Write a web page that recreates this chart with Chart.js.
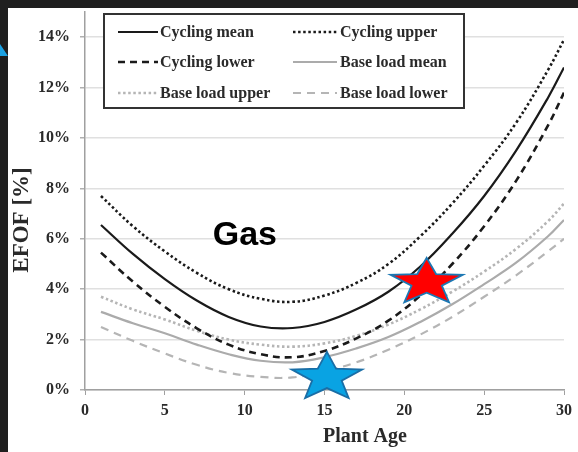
<!DOCTYPE html>
<html lang="en">
<head>
    <meta charset="UTF-8">
    <title>EFOF vs Plant Age - Gas</title>
    <script src="https://cdn.jsdelivr.net/npm/chart.js"></script>
    <style>
        body {
            margin: 0;
            width: 578px;
            height: 452px;
            background-color: #1f1f1f;
            overflow: hidden;
            position: relative;
        }
        .panel {
            position: absolute;
            left: 8px;
            top: 8px;
            width: 570px;
            height: 444px;
            background: white;
        }
        .corner {
            position: absolute;
            left: 0;
            top: 44px;
            width: 8px;
            height: 12px;
            background: #1ba1e2;
            clip-path: polygon(0 0, 100% 100%, 0 100%);
        }
    </style>
</head>
<body>
    <div class="corner"></div>
    <div class="panel">
        <canvas id="efofChart" width="570" height="444"></canvas>
    </div>

    <script>
        // values
        const ages = [1, 3, 5, 7, 9, 11, 13, 15, 17, 19, 21, 23, 25, 27, 29, 30];
        const cyclingMean  = [6.55, 5.4, 4.4, 3.55, 2.9, 2.52, 2.46, 2.7, 3.2, 3.9, 4.9, 6.2, 7.7, 9.5, 11.6, 12.8];
        const cyclingUpper = [7.7, 6.5, 5.5, 4.65, 4.0, 3.62, 3.5, 3.75, 4.25, 5.0, 6.1, 7.4, 8.9, 10.6, 12.7, 13.9];
        const cyclingLower = [5.45, 4.3, 3.3, 2.45, 1.8, 1.42, 1.3, 1.55, 2.05, 2.75, 3.75, 5.0, 6.5, 8.3, 10.5, 11.8];
        const baseMean  = [3.1, 2.65, 2.25, 1.8, 1.42, 1.16, 1.1, 1.3, 1.65, 2.1, 2.7, 3.4, 4.2, 5.05, 6.1, 6.75];
        const baseUpper = [3.7, 3.2, 2.8, 2.35, 2.0, 1.8, 1.72, 1.85, 2.15, 2.6, 3.2, 3.9, 4.7, 5.6, 6.7, 7.4];
        const baseLower = [2.5, 1.95, 1.45, 1.0, 0.68, 0.52, 0.5, 0.75, 1.1, 1.6, 2.2, 2.9, 3.7, 4.55, 5.5, 6.0];

        const yTicks = [0, 2, 4, 6, 8, 10, 12, 14];
        const xTicks = [0, 5, 10, 15, 20, 25, 30];

        // annotation: label and the two stars (age, EFOF %)
        const plotLabel = { text: 'Gas', age: 8.0, value: 5.75 };
        const redStar  = { age: 21.4, value: 4.27 };
        const blueStar = { age: 15.15, value: 0.5 };

        const serif = '"Liberation Serif", "Times New Roman", serif';
        const BLACK = '#1a1a1a';
        const GREY = '#ababab';

        const series = [
            { label: 'Cycling mean',    data: cyclingMean,  color: BLACK, width: 2.2, dash: [] },
            { label: 'Cycling upper',   data: cyclingUpper, color: BLACK, width: 2.6, dash: [2.5, 2.6] },
            { label: 'Cycling lower',   data: cyclingLower, color: BLACK, width: 2.6, dash: [7, 5] },
            { label: 'Base load mean',  data: baseMean,     color: GREY,  width: 2.2, dash: [] },
            { label: 'Base load upper', data: baseUpper,    color: '#b5b5b5', width: 2.6, dash: [2.5, 2.6] },
            { label: 'Base load lower', data: baseLower,    color: '#b5b5b5', width: 2.2, dash: [8, 6] }
        ];

        const datasets = series.map(s => ({
            label: s.label,
            data: ages.map((a, i) => ({ x: a, y: s.data[i] })),
            borderColor: s.color,
            borderWidth: s.width,
            borderDash: s.dash,
            pointRadius: 0,
            fill: false,
            tension: 0.4
        }));

        function drawStar(ctx, cx, cy, rx, ry, fill, stroke) {
            ctx.save();
            ctx.translate(cx, cy);
            ctx.scale(rx / ry, 1);
            ctx.beginPath();
            for (let i = 0; i < 10; i++) {
                const r = i % 2 === 0 ? ry : ry * 0.42;
                const ang = -Math.PI / 2 + i * Math.PI / 5;
                const px = r * Math.cos(ang);
                const py = r * Math.sin(ang);
                if (i === 0) ctx.moveTo(px, py); else ctx.lineTo(px, py);
            }
            ctx.closePath();
            ctx.restore();
            ctx.fillStyle = fill;
            ctx.fill();
            ctx.lineWidth = 1.8;
            ctx.strokeStyle = stroke;
            ctx.stroke();
        }

        const extras = {
            id: 'extras',
            afterDraw(chart) {
                const ctx = chart.ctx;
                const xs = chart.scales.x;
                const ys = chart.scales.y;

                // axis titles
                ctx.save();
                ctx.fillStyle = '#2a2a2a';
                ctx.textAlign = 'center';
                ctx.textBaseline = 'middle';
                ctx.font = 'bold 20px ' + serif;
                ctx.fillText('Plant Age', 357, 429);
                ctx.translate(14, 212);
                ctx.rotate(-Math.PI / 2);
                ctx.font = 'bold 23px ' + serif;
                ctx.fillText('EFOF [%]', 0, 0);
                ctx.restore();

                // legend box
                ctx.save();
                ctx.fillStyle = 'white';
                ctx.fillRect(96, 6, 360, 94);
                ctx.lineWidth = 2;
                ctx.strokeStyle = '#333';
                ctx.strokeRect(96, 6, 360, 94);
                const rowsY = [24, 54, 85];
                const cols = [
                    { x0: 110, x1: 150, tx: 152 },
                    { x0: 285, x1: 329, tx: 332 }
                ];
                ctx.font = 'bold 16px ' + serif;
                ctx.textBaseline = 'middle';
                ctx.textAlign = 'left';
                series.forEach((s, i) => {
                    const c = cols[i % 2];
                    const y = rowsY[Math.floor(i / 2)];
                    ctx.beginPath();
                    ctx.setLineDash(s.dash);
                    ctx.lineWidth = s.width;
                    ctx.strokeStyle = s.color;
                    ctx.moveTo(c.x0, y);
                    ctx.lineTo(c.x1, y);
                    ctx.stroke();
                    ctx.setLineDash([]);
                    ctx.fillStyle = '#2a2a2a';
                    ctx.fillText(s.label, c.tx, y + 1);
                });
                ctx.restore();

                // "Gas" label
                ctx.save();
                ctx.fillStyle = '#000';
                ctx.font = 'bold 34px "Liberation Sans", Arial, sans-serif';
                ctx.textAlign = 'left';
                ctx.textBaseline = 'alphabetic';
                ctx.fillText(plotLabel.text, xs.getPixelForValue(plotLabel.age), ys.getPixelForValue(plotLabel.value));
                ctx.restore();

                // stars
                drawStar(ctx, xs.getPixelForValue(redStar.age), ys.getPixelForValue(redStar.value), 38, 24.5, '#ff0000', '#1b78b4');
                drawStar(ctx, xs.getPixelForValue(blueStar.age), ys.getPixelForValue(blueStar.value), 37, 25.5, '#09a3e3', '#1a6ea6');
            }
        };

        const ctx = document.getElementById('efofChart').getContext('2d');
        const efofChart = new Chart(ctx, {
            type: 'line',
            data: { datasets: datasets },
            options: {
                responsive: false,
                animation: false,
                layout: { padding: { left: 0, right: 14, top: 4, bottom: 0 } },
                plugins: {
                    legend: { display: false },
                    tooltip: { enabled: false }
                },
                scales: {
                    x: {
                        type: 'linear',
                        min: 0,
                        max: 30,
                        afterBuildTicks: scale => { scale.ticks = xTicks.map(v => ({ value: v })); },
                        afterFit: scale => {
                            scale.height = 62;
                            scale.paddingLeft = 0;
                            scale.paddingRight = 0;
                        },
                        grid: {
                            drawOnChartArea: false,
                            drawTicks: true,
                            tickLength: 5,
                            color: '#a0a0a0'
                        },
                        border: { color: '#a0a0a0', width: 1.5 },
                        ticks: {
                            padding: 6,
                            color: '#2a2a2a',
                            font: { family: serif, size: 16, weight: 'bold' }
                        }
                    },
                    y: {
                        min: 0,
                        max: 15,
                        afterBuildTicks: scale => { scale.ticks = yTicks.map(v => ({ value: v })); },
                        afterFit: scale => {
                            scale.width = 77;
                            scale.paddingTop = 0;
                            scale.paddingBottom = 0;
                        },
                        grid: {
                            color: '#e0e0e0',
                            lineWidth: 1.5,
                            tickLength: 5,
                            tickColor: '#b0b0b0'
                        },
                        border: { color: '#a0a0a0', width: 1.5 },
                        ticks: {
                            padding: 10,
                            color: '#2a2a2a',
                            font: { family: serif, size: 16, weight: 'bold' },
                            callback: v => v + '%'
                        }
                    }
                }
            },
            plugins: [extras]
        });
    </script>
</body>
</html>
